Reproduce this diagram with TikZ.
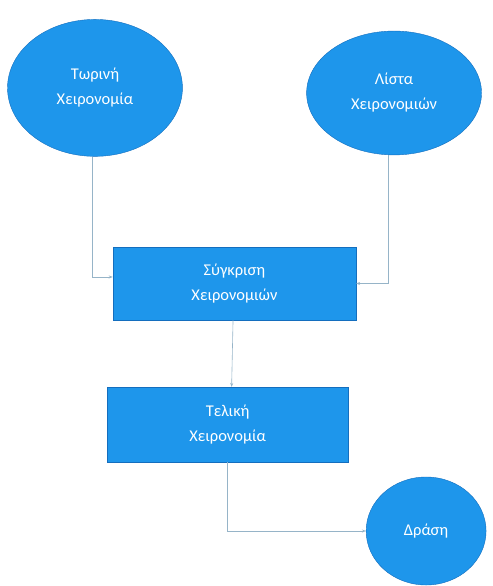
\documentclass[tikz,border=0pt]{standalone}
\usepackage{fontspec}
\setmainfont{Carlito}
\usepackage{tikz}
\usetikzlibrary{arrows.meta, positioning, shapes.geometric}
\definecolor{gestblue}{RGB}{30,150,235}
\definecolor{gestedge}{RGB}{20,110,190}
\definecolor{linkcolor}{RGB}{150,180,200}
\tikzset{
  gestoval/.style={ellipse, draw=gestedge, fill=gestblue, text=white,
                   inner sep=0pt, align=center, font=\fontsize{16.5}{25}\selectfont},
  gestbox/.style={rectangle, draw=gestedge, fill=gestblue, text=white,
                  inner sep=0pt, align=center, font=\fontsize{16.5}{25}\selectfont},
  link/.style={-{Stealth[length=4pt,width=3pt]}, draw=linkcolor, line width=0.6pt},
}
\begin{document}
\begin{tikzpicture}
  \useasboundingbox (0,0) rectangle (17.36,-20.67);
  % Gestures
  \node[gestoval, minimum width=6.17cm, minimum height=4.83cm] (current) at (3.35,-3.10)
    {Τωρινή\\Χειρονομία};
  \node[gestoval, minimum width=6.17cm, minimum height=4.37cm] (list) at (13.90,-3.28)
    {Λίστα\\Χειρονομιών};

  % Steps
  \node[gestbox, minimum width=8.57cm, minimum height=2.58cm] (compare) at (8.27,-10.00)
    {Σύγκριση\\Χειρονομιών};
  \node[gestbox, minimum width=8.50cm, minimum height=2.65cm] (final) at (8.03,-14.98)
    {Τελική\\Χειρονομία};
  \node[gestoval, minimum width=4.23cm, minimum height=3.81cm] (action) at (15.03,-18.73)
    {Δράση};

  % Links
  \draw[link] ([xshift=-0.1cm]current.south) |- ([yshift=0.23cm]compare.west);
  \draw[link] ([xshift=-0.2cm]list.south) |- (compare.east);
  \draw[link] ([xshift=-0.05cm]compare.south) -- ([xshift=0.14cm]final.north);
  \draw[link] ([xshift=-0.02cm]final.south) |- (action.west);
\end{tikzpicture}
\end{document}
